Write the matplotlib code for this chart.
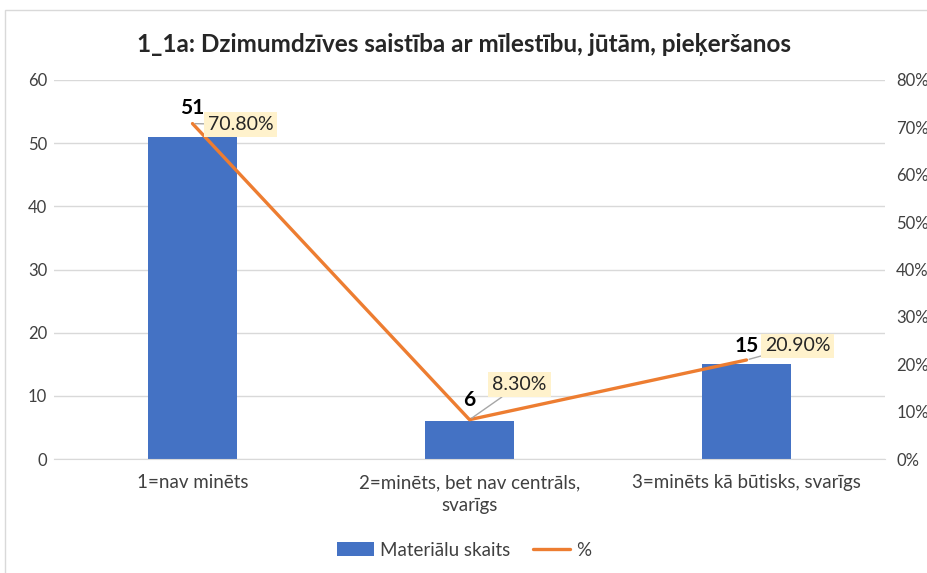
import matplotlib.pyplot as plt
from matplotlib.patches import Rectangle
from matplotlib.ticker import FuncFormatter

categories = ['1=nav minēts', '2=minēts, bet nav centrāls,\nsvarīgs', '3=minēts kā būtisks, svarīgs']
counts = [51, 6, 15]
percents = [70.8, 8.3, 20.9]
pct_labels = ['70.80%', '8.30%', '20.90%']

# label offsets in pixels (count label up, pct box right/up)
count_offsets = [29, 21, 18]
pct_offsets = [(48, -1), (50, 35), (51, 14)]

plt.rcParams['font.family'] = ['Lato', 'DejaVu Sans']

fig = plt.figure(figsize=(9.28, 5.73), dpi=100)
fig.patches.append(Rectangle((5 / 928, -0.1), 1.2, 1 - 10 / 573 + 0.1, transform=fig.transFigure,
                             fill=False, edgecolor='#D9D9D9', linewidth=1))
ax = fig.add_axes([54 / 928, 1 - 459 / 573, 831 / 928, 379 / 573])
ax2 = ax.twinx()

x = list(range(len(categories)))
bars = ax.bar(x, counts, width=0.32, color='#4472C4', label='Materiālu skaits', zorder=2)
line, = ax2.plot(x, percents, color='#ED7D31', linewidth=2.4, label='%', zorder=3,
                 solid_capstyle='round')

ax.set_xlim(-0.5, 2.5)
ax.set_ylim(0, 60)
ax.set_yticks(range(0, 61, 10))
ax2.set_ylim(0, 80)
ax2.set_yticks(range(0, 81, 10))
ax2.yaxis.set_major_formatter(FuncFormatter(lambda v, p: f'{v:.0f}%'))

ax.set_xticks(x)
ax.set_xticklabels(categories, linespacing=1.4)
ax.grid(axis='y', color='#D9D9D9', linewidth=1, zorder=0)
ax.set_axisbelow(True)
for a in (ax, ax2):
    for s in a.spines.values():
        s.set_visible(False)
    a.tick_params(length=0, labelsize=12, colors='#404040')
ax.spines['bottom'].set_visible(True)
ax.spines['bottom'].set_color('#D9D9D9')
ax.tick_params(axis='x', pad=11, labelsize=13.5)
ax.tick_params(axis='y', pad=5)
ax2.tick_params(axis='y', pad=8)

ax2.set_zorder(ax.get_zorder() + 1)
ax2.patch.set_visible(False)

for i, (c, p) in enumerate(zip(counts, percents)):
    ax.annotate(str(c), (i, c), xytext=(0, count_offsets[i]), textcoords='offset pixels',
                ha='center', va='center', fontsize=15, fontweight='bold', color='black', zorder=5)
    dx, dy = pct_offsets[i]
    ax2.annotate(pct_labels[i], (i, p), xytext=(dx, dy), textcoords='offset pixels',
                 ha='center', va='center', fontsize=14, color='#262626',
                 bbox=dict(boxstyle='square,pad=0.2', facecolor='#FFF2CC', edgecolor='none'),
                 arrowprops=dict(arrowstyle='-', color='#A6A6A6', linewidth=1,
                                 shrinkA=0, shrinkB=2), zorder=6)

fig.text(0.5, 1 - 45 / 573, '1_1a: Dzimumdzīves saistība ar mīlestību, jūtām, pieķeršanos',
         ha='center', va='center', fontsize=17.5, fontweight='bold', color='#262626')

fig.legend([bars, line], ['Materiālu skaits', '%'], loc='center', bbox_to_anchor=(0.5, 1 - 550 / 573),
           ncol=2, frameon=False, fontsize=13.5, handlelength=2.0, handleheight=0.8,
           handletextpad=0.3, columnspacing=1.2, labelcolor='#404040')

fig.savefig('out.png', dpi=100)
